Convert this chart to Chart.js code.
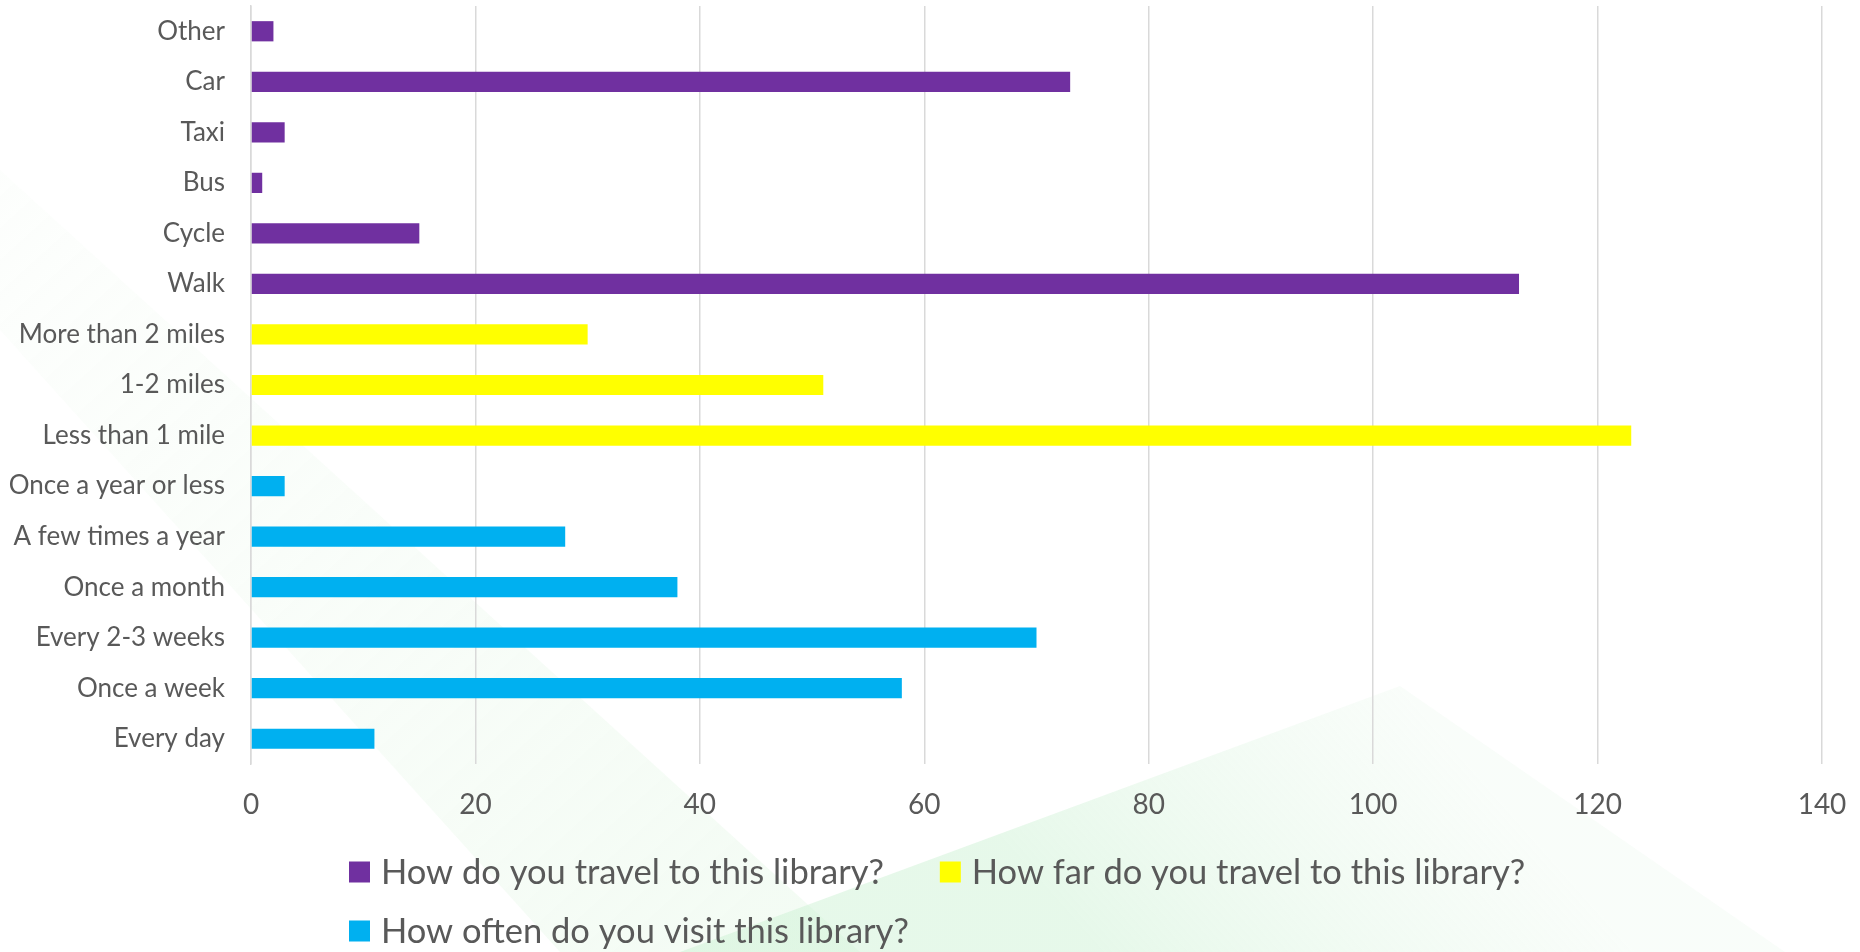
<!DOCTYPE html>
<html>
<head>
<meta charset="utf-8">
<script src="https://cdn.jsdelivr.net/npm/chart.js@4/dist/chart.umd.min.js"></script>
<style>
  html, body { margin: 0; padding: 0; background: #ffffff; }
  #wrap { width: 1860px; height: 952px; position: relative; }
</style>
</head>
<body>
<div id="wrap"><canvas id="chart"></canvas></div>
<script>
// survey answers, top row first
const travelModes = ['Other', 'Car', 'Taxi', 'Bus', 'Cycle', 'Walk'];
const travelCounts = [2, 73, 3, 1, 15, 113];

const distanceBands = ['More than 2 miles', '1-2 miles', 'Less than 1 mile'];
const distanceCounts = [30, 51, 123];

const visitFrequencies = ['Once a year or less', 'A few times a year', 'Once a month', 'Every 2-3 weeks', 'Once a week', 'Every day'];
const visitCounts = [3, 28, 38, 70, 58, 11];

const seriesNames = [
  'How do you travel to this library?',
  'How far do you travel to this library?',
  'How often do you visit this library?'
];
const seriesColors = ['#7030A0', '#FFFF00', '#00B0F0'];

const axisMin = 0;
const axisMax = 140;
const axisStep = 20;

const FONT = 'Lato, "Open Sans", sans-serif';
const TEXT_COLOR = '#595959';

const groups = [
  { labels: travelModes, values: travelCounts },
  { labels: distanceBands, values: distanceCounts },
  { labels: visitFrequencies, values: visitCounts }
];

const categories = groups.reduce((all, g) => all.concat(g.labels), []);

/**
 * One dataset per question, null outside its own rows
 * @param {number} index
 */
function buildSeries (index) {
  const data = [];
  groups.forEach((g, i) => {
    g.values.forEach(v => data.push(i === index ? v : null));
  });
  return {
    label: seriesNames[index],
    data: data,
    backgroundColor: seriesColors[index],
    borderWidth: 0,
    categoryPercentage: 1,
    barPercentage: 0.4
  };
}

// faint green shapes behind the plot
const backdrop = {
  id: 'backdrop',
  beforeDraw (chart) {
    const ctx = chart.ctx;
    const h = chart.height;
    ctx.save();

    let g = ctx.createLinearGradient(0, 180, 700, h);
    g.addColorStop(0, 'rgba(225,245,225,0.08)');
    g.addColorStop(1, 'rgba(210,242,212,0.25)');
    ctx.fillStyle = g;
    ctx.beginPath();
    ctx.moveTo(0, 170);
    ctx.lineTo(0, 330);
    ctx.lineTo(560, h);
    ctx.lineTo(860, h);
    ctx.closePath();
    ctx.fill();

    g = ctx.createLinearGradient(1400, 686, 1100, h);
    g.addColorStop(0, 'rgba(225,245,228,0.20)');
    g.addColorStop(1, 'rgba(200,240,208,0.45)');
    ctx.fillStyle = g;
    ctx.beginPath();
    ctx.moveTo(1400, 686);
    ctx.lineTo(1785, h);
    ctx.lineTo(680, h);
    ctx.closePath();
    ctx.fill();

    ctx.restore();
  }
};

// Excel-like legend: two columns, rows left aligned
const gridLegend = {
  id: 'gridLegend',
  afterDraw (chart) {
    const ctx = chart.ctx;
    const items = chart.data.datasets;
    const left = 349;
    const box = 21;
    const textGap = 11;
    const colGap = 31;
    const rows = [872, 931];

    ctx.save();
    ctx.font = '34.5px ' + FONT;
    ctx.textBaseline = 'middle';
    ctx.textAlign = 'left';

    const widths = items.map(d => ctx.measureText(d.label).width);
    const colWidth = Math.max(widths[0], widths[2]) + box + textGap + colGap;

    items.forEach((d, i) => {
      const col = i % 2;
      const row = Math.floor(i / 2);
      const x = left + col * colWidth;
      const y = rows[row];
      ctx.fillStyle = d.backgroundColor;
      ctx.fillRect(x, y - box / 2, box, box);
      ctx.fillStyle = TEXT_COLOR;
      ctx.fillText(d.label, x + box + textGap, y + 1);
    });
    ctx.restore();
  }
};

const chart = new Chart(document.getElementById('chart'), {
  type: 'bar',
  data: {
    labels: categories,
    datasets: [0, 1, 2].map(buildSeries)
  },
  plugins: [backdrop, gridLegend],
  options: {
    indexAxis: 'y',
    responsive: true,
    maintainAspectRatio: false,
    animation: false,
    layout: {
      padding: { top: 6, right: 38, bottom: 112, left: 0 }
    },
    plugins: {
      legend: { display: false },
      tooltip: { enabled: false }
    },
    scales: {
      x: {
        min: axisMin,
        max: axisMax,
        stacked: true,
        ticks: {
          stepSize: axisStep,
          color: TEXT_COLOR,
          font: { family: FONT, size: 28 },
          padding: 24
        },
        grid: {
          color: '#d9d9d9',
          lineWidth: 1.5,
          drawTicks: false
        },
        border: { display: false },
        afterFit (scale) {
          scale.height = 76;
          scale.paddingLeft = 0;
          scale.paddingRight = 0;
        }
      },
      y: {
        stacked: true,
        ticks: {
          color: TEXT_COLOR,
          font: { family: FONT, size: 26 },
          padding: 26,
          autoSkip: false
        },
        grid: { display: false, drawTicks: false },
        border: { display: true, color: '#d9d9d9', width: 1.5 },
        afterFit (scale) {
          scale.width = 251;
          // labels sit beside their bars, no extra room needed above
          scale.paddingTop = 0;
          scale.paddingBottom = 0;
        }
      }
    }
  }
});
</script>
</body>
</html>
